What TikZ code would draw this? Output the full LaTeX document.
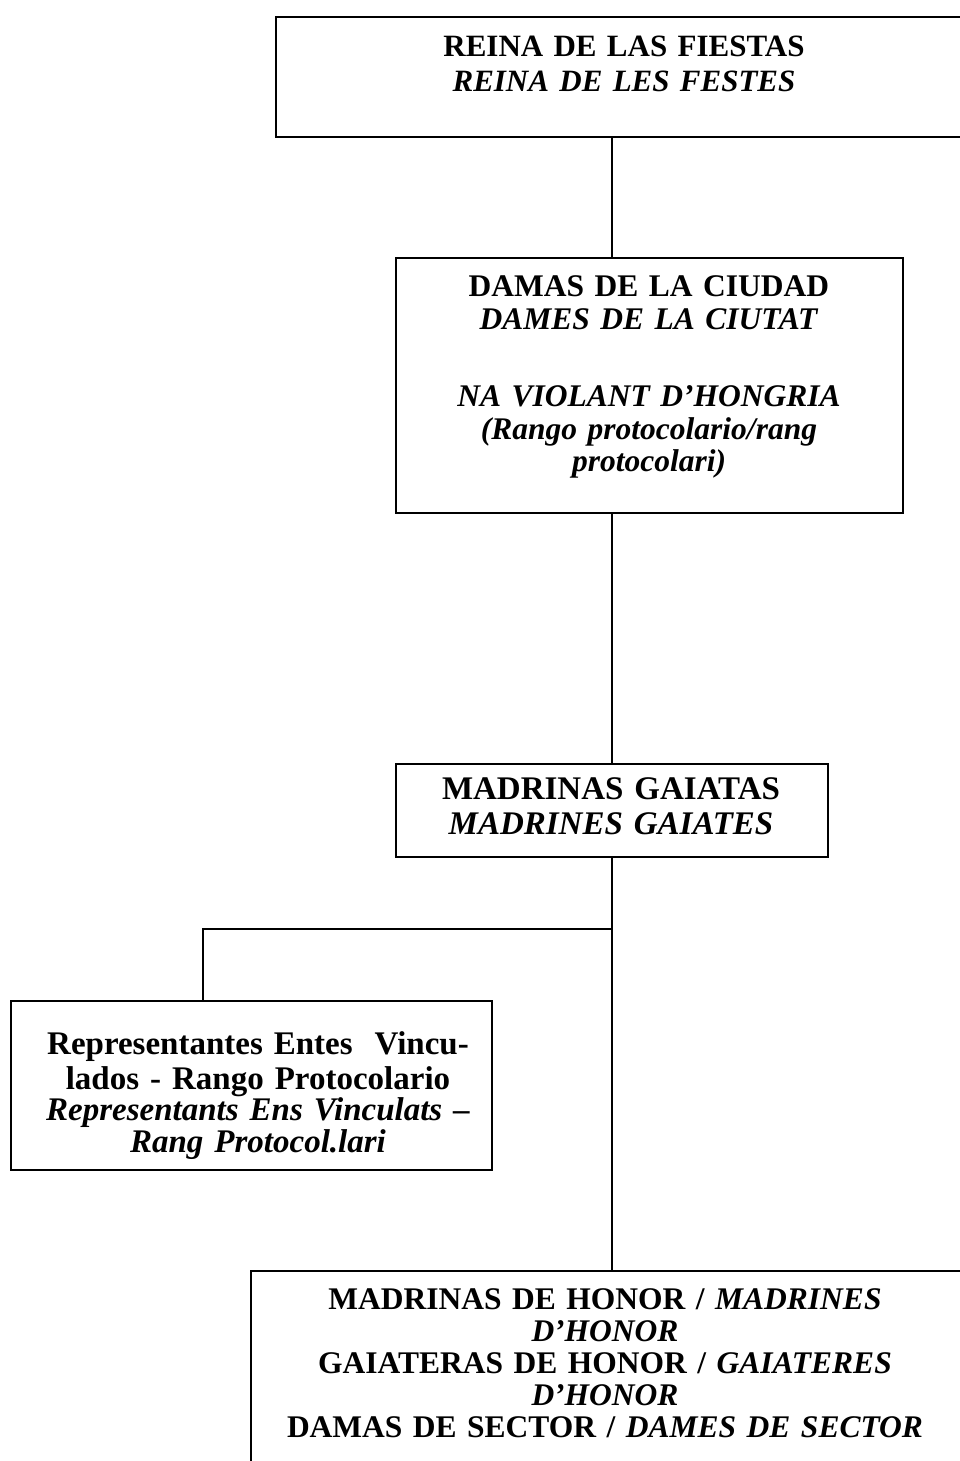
\documentclass[tikz,border=0pt]{standalone}
\usepackage{fontspec}
\setmainfont{Liberation Serif}
\begin{document}
\begin{tikzpicture}[x=1pt,y=-1pt,
  box/.style={draw=black, line width=1.6pt, anchor=north west, inner sep=0pt, fill=white},
  txt/.style={anchor=base, inner sep=0pt, text width=760pt, align=center,
    font=\fontsize{31.5}{34}\selectfont\bfseries},
  link/.style={draw=black, line width=1.6pt}]
\useasboundingbox (0,0) rectangle (960,1461);
\clip (0,0) rectangle (960,1461);
% boxes
\node[box, minimum width=720pt, minimum height=120pt] (reina) at (275,16) {};
\node[box, minimum width=507pt, minimum height=255pt] (damas) at (395,257) {};
\node[box, minimum width=432pt, minimum height=93pt] (madrinas) at (395,763) {};
\node[box, minimum width=481pt, minimum height=169pt] (rep) at (10,1000) {};
\node[box, minimum width=740pt, minimum height=260pt] (honor) at (250,1270) {};
% texts
\node[txt, font=\fontsize{31}{34}\selectfont\bfseries] (reinaT) at (624,56.5) {REINA DE LAS FIESTAS\\[1pt]\textit{REINA DE LES FESTES}};
\node[txt] (damasT) at (649,296.5) {DAMAS DE LA CIUDAD\\[-1pt]\textit{DAMES DE LA CIUTAT}\\[43pt]\textit{NA VIOLANT D’HONGRIA}\\[-1pt]\textit{(Rango protocolario/rang}\\[-2pt]\textit{protocolari)}};
\node[txt, font=\fontsize{33}{35}\selectfont\bfseries] (madrinasT) at (611,799.5) {MADRINAS GAIATAS\\[0pt]\textit{MADRINES GAIATES}};
\node[txt, font=\fontsize{33}{34}\selectfont\bfseries] (repT) at (258,1054.5) {Representantes Entes\ \ Vincu-\\[1pt]lados - Rango Protocolario\\[-3pt]\textit{Representants Ens Vinculats –}\\[-2pt]\textit{Rang Protocol.lari}};
\node[txt] (honorT) at (605,1309.5) {MADRINAS DE HONOR / \textit{MADRINES}\\[-2pt]\textit{D’HONOR}\\[-2pt]GAIATERAS DE HONOR / \textit{GAIATERES}\\[-2pt]\textit{D’HONOR}\\[-2pt]DAMAS DE SECTOR / \textit{DAMES DE SECTOR}};
% connectors
\coordinate (trunk) at (612,0);
\coordinate (fork) at (612,929);
\coordinate (bend) at (203,929);
\draw[link] (reina.south -| trunk) -- (damas.north -| trunk);
\draw[link] (damas.south -| trunk) -- (madrinas.north -| trunk);
\draw[link] (madrinas.south -| trunk) -- (fork) -- (honor.north -| trunk);
\draw[link] (fork) -- (bend) -- (rep.north -| bend);
\end{tikzpicture}
\end{document}
